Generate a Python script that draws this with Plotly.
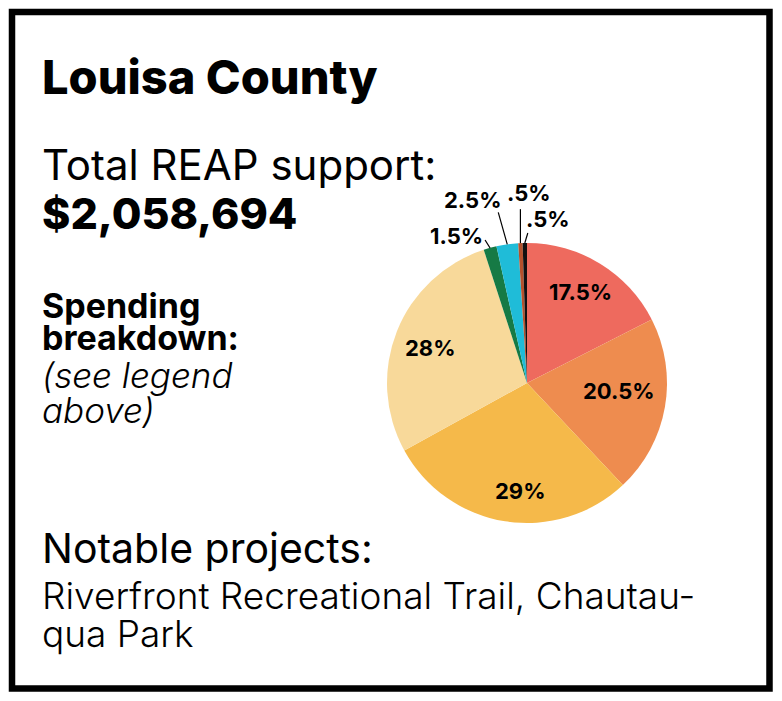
import math
import plotly.graph_objects as go

W, H = 782, 701

# ---- data ----
categories = ["Cat A", "Cat B", "Cat C", "Cat D", "Cat E", "Cat F", "Cat G", "Cat H"]
shares = [17.5, 20.5, 29, 28, 1.5, 2.5, 0.5, 0.5]
share_labels = ["17.5%", "20.5%", "29%", "28%", "1.5%", "2.5%", ".5%", ".5%"]
colors = ["#EE6A5E", "#EE8C4F", "#F5B94A", "#F8D99A", "#167A45", "#1FBCD8", "#B4512C", "#111111"]

title = "Louisa County"
support_label = "Total REAP support:"
support_value = "$2,058,694"

FONT = "Inter"

# pie geometry (pixels)
cx, cy, R = 527, 383, 140

def px(x):
    return x / W

def py(y):
    return 1 - y / H

fig = go.Figure()
fig.add_trace(go.Pie(
    labels=categories, values=shares, sort=False, direction="clockwise", rotation=0,
    marker=dict(colors=colors, line=dict(width=0)),
    textinfo="none", hoverinfo="label+percent", showlegend=False,
    domain=dict(x=[px(cx - R), px(cx + R)], y=[py(cy + R), py(cy - R)]),
))

annotations = []
shapes = []

def txt(s, x, y, size, weight=400, italic=False, xanchor="left", color="black"):
    annotations.append(dict(
        text=s, x=px(x), y=py(y), xref="paper", yref="paper", showarrow=False,
        xanchor=xanchor, yanchor="middle", align="left",
        font=dict(family=FONT, size=size, color=color, weight=weight,
                  style="italic" if italic else "normal"),
    ))

# left text block
txt(title, 40, 77, 47, weight=800)
txt(support_label, 40, 164, 42, weight=400)
txt(support_value, 40, 213, 43, weight=800)
txt("Spending", 40, 305, 34, weight=700)
txt("breakdown:", 40, 338, 34, weight=700)
txt("(see legend", 40, 375, 35, weight=300, italic=True)
txt("above)", 40, 410, 35, weight=300, italic=True)
txt("Notable projects:", 40, 548, 41, weight=400)
txt("Riverfront Recreational Trail, Chautau-", 40, 595, 37, weight=300)
txt("qua Park", 40, 633, 37, weight=300)

# slice labels derived from cumulative shares
total = sum(shares)
# inside labels: (radius factor, angular nudge in degrees)
inside_pos = [(0.75, -1.1), (0.66, -4.9), (0.77, -5.8), (0.73, -1.6)]
# leader-line end offsets (px) and label-centre offsets from line end for small slices
leader = {4: ((-5, -8), (-29, -4)),
          5: ((-9, -32), (-26, -12)),
          6: ((0, -34), (9, -16)),
          7: ((3, -10), (20, -14))}
cum = 0
for i, v in enumerate(shares):
    mid = (cum + v / 2) / total * 2 * math.pi
    cum += v
    if i < 4:
        rf, nudge = inside_pos[i]
        a = mid + math.radians(nudge)
        r = rf * R
        txt(share_labels[i], cx + r * math.sin(a), cy - r * math.cos(a), 22,
            weight=700, xanchor="center")
    else:
        ex, ey = cx + R * math.sin(mid), cy - R * math.cos(mid)
        (dx, dy), (lx, ly) = leader[i]
        x1, y1 = ex + dx, ey + dy
        shapes.append(dict(type="line", xref="paper", yref="paper",
                           x0=px(ex), y0=py(ey), x1=px(x1), y1=py(y1),
                           line=dict(color="black", width=1.2)))
        txt(share_labels[i], x1 + lx, y1 + ly, 22, weight=700, xanchor="center")

# frame
shapes.append(dict(type="rect", xref="paper", yref="paper",
                   x0=px(12), x1=px(769.5), y0=py(688.5), y1=py(12),
                   line=dict(color="black", width=6.5), fillcolor="rgba(0,0,0,0)"))

fig.update_layout(
    width=W, height=H, margin=dict(l=0, r=0, t=0, b=0),
    paper_bgcolor="white", plot_bgcolor="white",
    annotations=annotations, shapes=shapes,
)
fig.write_html("out.html")
